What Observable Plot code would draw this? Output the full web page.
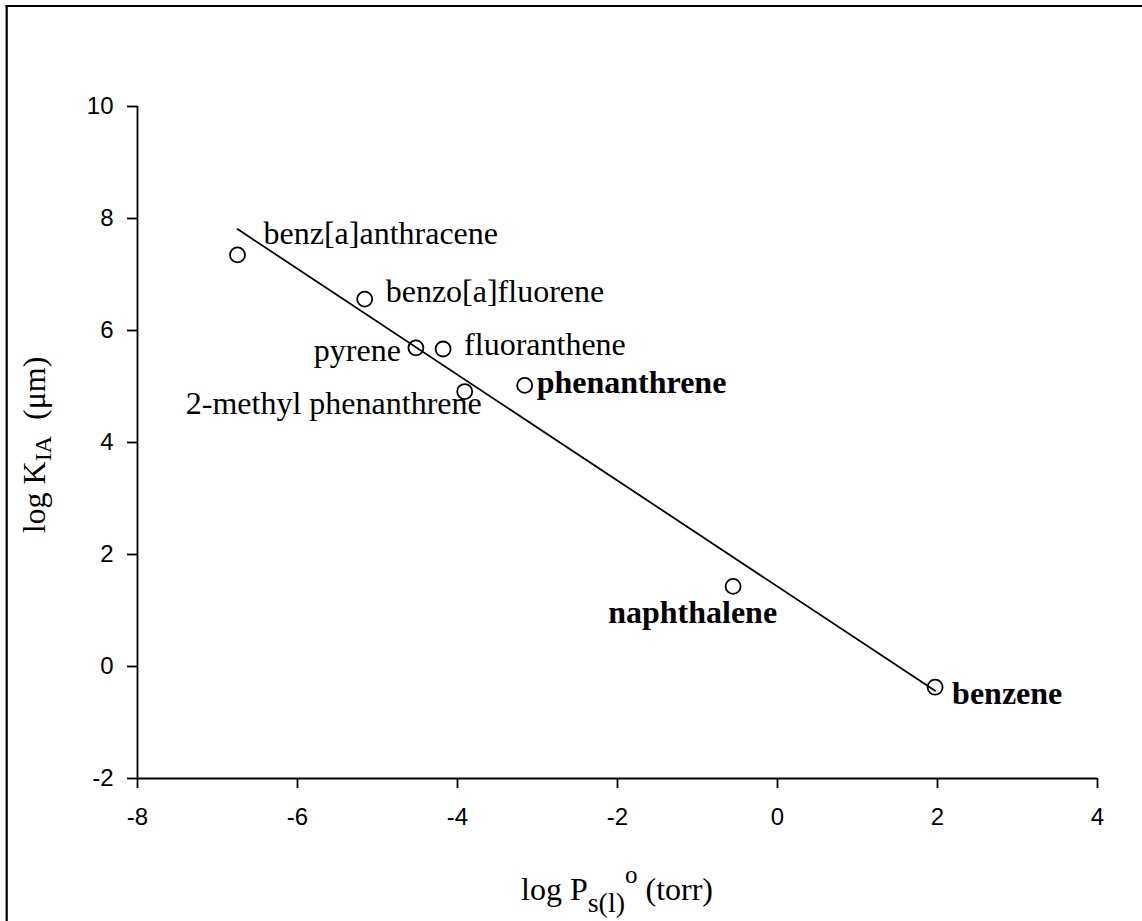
<!DOCTYPE html>
<html>
<head>
<meta charset="utf-8">
<script src="https://cdn.jsdelivr.net/npm/d3@7"></script>
<script src="https://cdn.jsdelivr.net/npm/@observablehq/plot@0.6"></script>
<style>
  html, body { margin: 0; padding: 0; background: white; }
  #chart { width: 1142px; height: 921px; }
</style>
</head>
<body>
<div id="chart"></div>
<script>
// Data
const compounds = ["benz[a]anthracene", "benzo[a]fluorene", "pyrene", "fluoranthene",
  "2-methyl phenanthrene", "phenanthrene", "naphthalene", "benzene"];
const logP = [-6.75, -5.16, -4.52, -4.18, -3.91, -3.16, -0.555, 1.97];
const logK = [7.35, 6.56, 5.69, 5.67, 4.91, 5.02, 1.43, -0.37];
const xTicks = [-8, -6, -4, -2, 0, 2, 4];
const yTicks = [-2, 0, 2, 4, 6, 8, 10];

const data = compounds.map((name, i) => ({name, logP: logP[i], logK: logK[i]}));

const serif = "'Liberation Serif', 'Times New Roman', Times, serif";
const sans = "'Liberation Sans', Arial, Helvetica, sans-serif";

function label(name, opts) {
  return Plot.text(data.filter(d => d.name === name), {
    x: "logP", y: "logK", text: "name",
    fontFamily: serif, fontSize: 32, fill: "black",
    ...opts
  });
}

const svg = Plot.plot({
  width: 1142,
  height: 921,
  marginLeft: 137,
  marginRight: 45,
  marginTop: 106,
  marginBottom: 143,
  style: {fontFamily: sans, fontSize: "24px", background: "white", color: "black"},
  x: {domain: [-8, 4]},
  y: {domain: [-2, 10]},
  marks: [
    Plot.ruleY([-2], {stroke: "black", strokeWidth: 1.8}),
    Plot.ruleX([-8], {stroke: "black", strokeWidth: 1.8}),
    Plot.axisX({ticks: xTicks, tickSize: 10, tickPadding: 19, strokeWidth: 1.8,
      tickFormat: d => String(d), label: null, fontSize: 24, fontFamily: sans}),
    Plot.axisY({ticks: yTicks, tickSize: 10, tickPadding: 14, strokeWidth: 1.8,
      tickFormat: d => String(d), label: null, fontSize: 24, fontFamily: sans}),
    Plot.linearRegressionY(data, {x: "logP", y: "logK", ci: 0, stroke: "black", strokeWidth: 1.8}),
    Plot.dot(data, {x: "logP", y: "logK", r: 7.5, stroke: "black", strokeWidth: 1.8, fill: "none"}),
    label("benz[a]anthracene", {textAnchor: "start", dx: 26, dy: -21}),
    label("benzo[a]fluorene", {textAnchor: "start", dx: 21, dy: -7}),
    label("pyrene", {textAnchor: "end", dx: -15, dy: 3}),
    label("fluoranthene", {textAnchor: "start", dx: 21, dy: -4}),
    label("2-methyl phenanthrene", {textAnchor: "end", dx: 17, dy: 12}),
    label("phenanthrene", {textAnchor: "start", dx: 12, dy: -3, fontWeight: "bold"}),
    label("naphthalene", {textAnchor: "end", dx: 44, dy: 26, fontWeight: "bold"}),
    label("benzene", {textAnchor: "start", dx: 17, dy: 7, fontWeight: "bold"})
  ]
});

document.getElementById("chart").appendChild(svg);

const s = d3.select(svg);
// outer frame (top and left edges visible)
s.append("line").attr("x1", 6.7).attr("x2", 6.7).attr("y1", 5).attr("y2", 921)
  .attr("stroke", "black").attr("stroke-width", 2.2);
s.append("line").attr("x1", 5.6).attr("x2", 1142).attr("y1", 6).attr("y2", 6)
  .attr("stroke", "black").attr("stroke-width", 2.2);

// x axis title: log P_s(l)^o (torr)
const xt = s.append("text")
  .attr("x", 617).attr("y", 900)
  .attr("text-anchor", "middle")
  .attr("font-family", serif).attr("font-size", 32).attr("fill", "black");
xt.append("tspan").text("log P");
xt.append("tspan").attr("font-size", 28).attr("dy", 12).text("s(l)");
xt.append("tspan").attr("font-size", 25).attr("dy", -29).text("o");
xt.append("tspan").attr("dy", 17).text("\u00a0(torr)");

// y axis title: log K_IA (μm)
const yt = s.append("text")
  .attr("transform", "translate(45,445) rotate(-90)")
  .attr("text-anchor", "middle")
  .attr("font-family", serif).attr("font-size", 32).attr("fill", "black");
yt.append("tspan").text("log K");
yt.append("tspan").attr("font-size", 24).attr("dy", 6).text("IA");
yt.append("tspan").attr("dy", -6).text("\u00a0\u00a0(\u03bcm)");
</script>
</body>
</html>
